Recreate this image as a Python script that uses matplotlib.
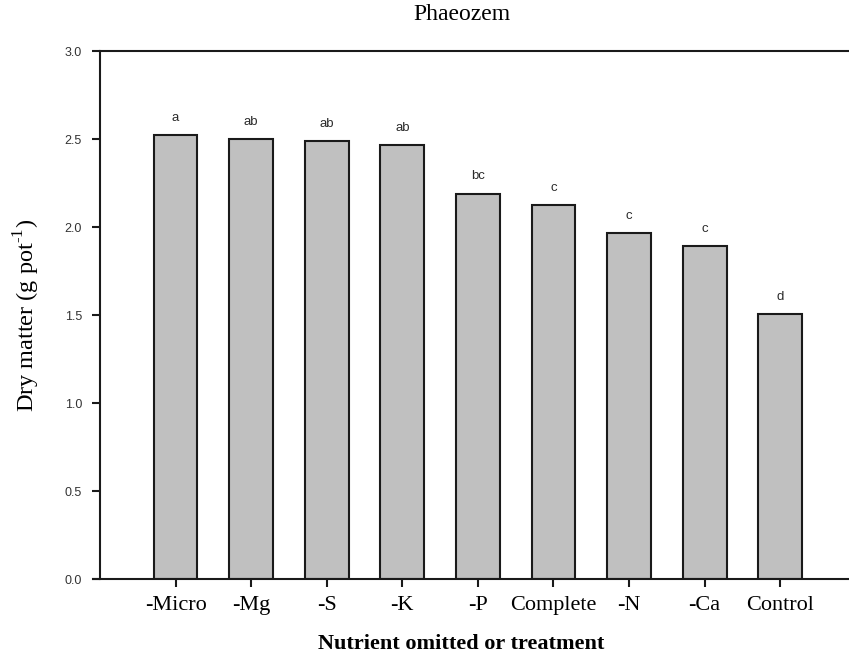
import matplotlib.pyplot as plt
import numpy as np

treatments = ['-Micro', '-Mg', '-S', '-K', '-P', 'Complete', '-N', '-Ca', 'Control']
dry_matter = [2.52, 2.50, 2.49, 2.465, 2.19, 2.125, 1.965, 1.89, 1.505]
letters = ['a', 'ab', 'ab', 'ab', 'bc', 'c', 'c', 'c', 'd']
y_ticks = [0.0, 0.5, 1.0, 1.5, 2.0, 2.5, 3.0]

if __name__ == '__main__':
    plt.rcParams['mathtext.fontset'] = 'custom'
    plt.rcParams['mathtext.rm'] = 'Liberation Serif'
    serif = ['Liberation Serif', 'DejaVu Serif']
    fig = plt.figure(figsize=(8.49, 6.59), dpi=100)
    ax = fig.add_axes([100 / 849, 1 - 579 / 659, 1 - 100 / 849, (579 - 51) / 659])

    x = np.arange(len(treatments))
    ax.bar(x, dry_matter, width=0.58, color='#c0c0c0',
           edgecolor='#1a1a1a', linewidth=1.5)

    for xi, val, lab in zip(x, dry_matter, letters):
        ax.annotate(lab, (xi, val), xytext=(0, 8), textcoords='offset points',
                    ha='center', va='bottom', fontsize=9.5,
                    family='Liberation Sans', color='#2b2b2b')

    ax.set_xlim(-1.0, 8.91)
    ax.set_ylim(0, 3.0)
    ax.set_yticks(y_ticks)
    ax.set_yticklabels([f'{t:.1f}' for t in y_ticks], family='Liberation Sans',
                       fontsize=9, color='#333333')
    ax.set_xticks(x)
    ax.set_xticklabels(treatments, family=serif, fontsize=16)

    ax.spines['right'].set_visible(False)
    for s in ['left', 'bottom', 'top']:
        ax.spines[s].set_linewidth(1.5)
        ax.spines[s].set_color('#1a1a1a')
    ax.spines['bottom'].set_bounds(-1.09, 8.91)
    ax.tick_params(axis='both', direction='out', length=6, width=1.5, color='#1a1a1a')
    ax.tick_params(axis='y', pad=7)
    ax.tick_params(axis='x', pad=6)

    ax.set_ylabel(r'Dry matter (g pot$^{\mathrm{\text{-}1}}$)', family=serif,
                  fontsize=17.5)
    ax.yaxis.set_label_coords(-0.077, 0.5)
    ax.set_xlabel('Nutrient omitted or treatment', family=serif, fontsize=16,
                  fontweight='bold')
    ax.xaxis.set_label_coords((461 - 100) / 749, -0.104)
    fig.text(462 / 849, 1 - 15 / 659, 'Phaeozem', family=serif, fontsize=17,
             ha='center', va='center')

    fig.savefig('out.png', dpi=100)
